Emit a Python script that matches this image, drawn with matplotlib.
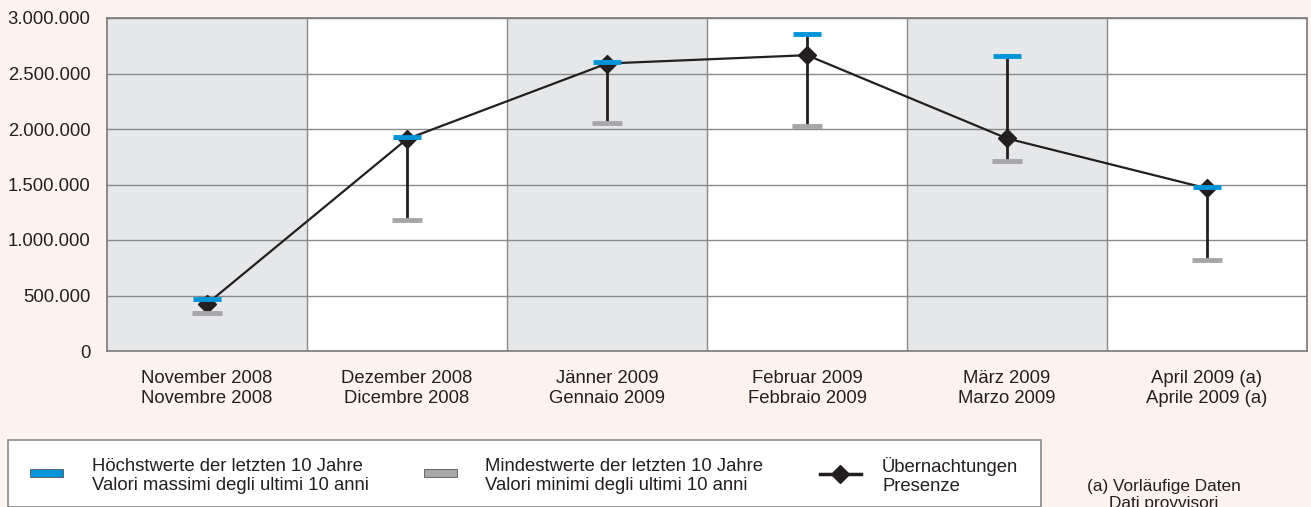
import matplotlib.pyplot as plt
from matplotlib.patches import Rectangle
from matplotlib.lines import Line2D
from matplotlib.ticker import FuncFormatter

plt.rcParams['font.family'] = ['Liberation Sans', 'DejaVu Sans']

months = ['November 2008\nNovembre 2008', 'Dezember 2008\nDicembre 2008',
          'Jänner 2009\nGennaio 2009', 'Februar 2009\nFebbraio 2009',
          'März 2009\nMarzo 2009', 'April 2009 (a)\nAprile 2009 (a)']
presenze = [425000, 1910000, 2590000, 2665000, 1915000, 1465000]
massimi = [465000, 1925000, 2600000, 2853000, 2655000, 1480000]
minimi = [340000, 1177000, 2050000, 2030000, 1709000, 820000]

BG = '#fdf3ee'
BLUE = '#0095d9'
GREY = '#a7a7a9'
SHADE = '#e6e7e9'
GRID = '#8a8a8a'
INK = '#231f20'

fig = plt.figure(figsize=(13.11, 5.07), dpi=100, facecolor=BG)
ax = fig.add_axes([107 / 1311, 1 - 351 / 507, 1200 / 1311, 333 / 507])
ax.set_facecolor('white')

x = list(range(len(months)))
for i in x:
    if i % 2 == 0:
        ax.axvspan(i - 0.5, i + 0.5, color=SHADE, zorder=0, lw=0)
    ax.axvline(i + 0.5, color=GRID, lw=1, zorder=1)

ax.set_ylim(0, 3000000)
ax.set_xlim(-0.5, len(months) - 0.5)
ax.set_yticks(range(0, 3000001, 500000))
ax.yaxis.set_major_formatter(FuncFormatter(lambda v, p: f'{int(v):,}'.replace(',', '.')))
ax.grid(axis='y', color=GRID, lw=1, zorder=1)
ax.set_axisbelow(True)
for s in ax.spines.values():
    s.set_color('#7a7a7a')
    s.set_linewidth(1.2)

# vertical ranges min -> max, caps drawn over the line
ax.vlines(x, minimi, massimi, color=INK, lw=2, zorder=3)
ax.plot(x, presenze, color=INK, lw=1.6, marker='D', markersize=9, zorder=4)
ax.hlines(massimi, [i - 0.07 for i in x], [i + 0.07 for i in x], color=BLUE, lw=3.5, zorder=5)
ax.hlines(minimi, [i - 0.075 for i in x], [i + 0.075 for i in x], color=GREY, lw=3.5, zorder=5)

ax.set_xticks(x)
ax.set_xticklabels(months, fontsize=13.3, color=INK, linespacing=1.18)
ax.tick_params(axis='x', length=0, pad=14)
ax.tick_params(axis='y', length=0, labelsize=13.3, labelcolor=INK, pad=12)

# legend box
W, H = 1311, 507
fig.patches.append(Rectangle((8 / W, 0), 1033 / W, 1 - 440 / H, transform=fig.transFigure,
                             facecolor='white', edgecolor='#8a8a8a', lw=1.2, zorder=1))
fig.patches.append(Rectangle((30 / W, 1 - 477 / H), 33 / W, 8 / H, transform=fig.transFigure,
                             facecolor=BLUE, edgecolor='#555555', lw=0.6, zorder=2))
fig.patches.append(Rectangle((424 / W, 1 - 477 / H), 33 / W, 8 / H, transform=fig.transFigure,
                             facecolor=GREY, edgecolor='#555555', lw=0.6, zorder=2))
fig.lines.append(Line2D([820 / W, 861 / W], [1 - 474 / H, 1 - 474 / H], transform=fig.transFigure,
                        color=INK, lw=2.5))
fig.lines.append(Line2D([840 / W], [1 - 474 / H], transform=fig.transFigure,
                        color=INK, marker='D', markersize=9))
fs = 13.3
fig.text(92 / W, 1 - 476 / H, 'Höchstwerte der letzten 10 Jahre\nValori massimi degli ultimi 10 anni',
         fontsize=fs, va='center', ha='left', color=INK, linespacing=1.15)
fig.text(485 / W, 1 - 476 / H, 'Mindestwerte der letzten 10 Jahre\nValori minimi degli ultimi 10 anni',
         fontsize=fs, va='center', ha='left', color=INK, linespacing=1.15)
fig.text(882 / W, 1 - 476 / H, 'Übernachtungen\nPresenze',
         fontsize=fs, va='center', ha='left', color=INK, linespacing=1.15)
fig.text(1164 / W, 1 - 495 / H, '(a) Vorläufige Daten\nDati provvisori',
         fontsize=12.4, va='center', ha='center', color=INK, linespacing=1.15)

fig.savefig('out.png', dpi=100, facecolor=BG)
